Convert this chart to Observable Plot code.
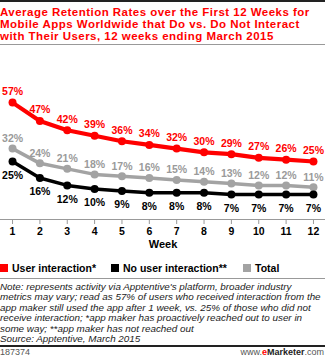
<!DOCTYPE html>
<html><head><meta charset="utf-8">
<script src="https://cdn.jsdelivr.net/npm/d3@7"></script>
<script src="https://cdn.jsdelivr.net/npm/@observablehq/plot@0.6"></script>
<style>
html,body{margin:0;padding:0;background:#fff;}
body{width:325px;height:357px;overflow:hidden;font-family:"Liberation Sans",Arial,sans-serif;}
#topbar{height:2px;background:#222;}
#title{color:#f00;font-weight:bold;font-size:11.5px;letter-spacing:0.47px;padding-top:4px;height:37.5px;border-bottom:1px solid #999;white-space:nowrap;}
#title div{height:12.1px;line-height:12.1px;overflow:visible;}
#chart{margin-top:5.5px;height:205px;}
#legend{height:21px;padding-top:2px;line-height:22px;font-size:10.5px;font-weight:bold;white-space:nowrap;position:relative;}
#legend span.item{position:absolute;top:2px;}
#legend i{display:inline-block;width:8px;height:8px;margin-right:4px;vertical-align:-0px;}
#note{border-top:1px solid #999;padding-top:3px;height:63px;font-size:9.85px;font-style:italic;color:#222;white-space:nowrap;}
#note div{height:10.4px;line-height:10.4px;overflow:visible;}
#footer{border-top:2px solid #222;height:10px;font-size:9px;line-height:10px;color:#555;position:relative;}
#footer .r{position:absolute;right:1px;top:0;}
</style>
</head><body>
<div id="topbar"></div>
<div id="title"></div>
<div id="chart"></div>
<div id="legend"></div>
<div id="note"></div>
<div id="footer"><span>187374</span><span class="r">www.<b style="color:#f00">e</b><b style="color:#222">Marketer</b>.com</span></div>
<script>
const titleLines = [
  "Average Retention Rates over the First 12 Weeks for",
  "Mobile Apps Worldwide that Do vs. Do Not Interact",
  "with Their Users, 12 weeks ending March 2015"
];
const weeks = [1,2,3,4,5,6,7,8,9,10,11,12];
const userInteraction = [57,47,42,39,36,34,32,30,29,27,26,25];
const noUserInteraction = [25,16,12,10,9,8,8,8,7,7,7,7];
const total = [32,24,21,18,17,16,15,14,13,12,12,11];
const seriesNames = ["User interaction*","No user interaction**","Total"];
const seriesColors = ["#ff0000","#000000","#a3a3a3"];
const labelColors = ["#ff0000","#000000","#9a9a9a"];
const xAxisLabel = "Week";
const noteLines = [
  "Note: represents activity via Apptentive's platform, broader industry",
  "metrics may vary; read as 57% of users who received interaction from the",
  "app maker still used the app after 1 week, vs. 25% of those who did not",
  "receive interaction; *app maker has proactively reached out to user in",
  "some way; **app maker has not reached out",
  "Source: Apptentive, March 2015"
];

const fillLines = (id, lines) => {
  const el = document.getElementById(id);
  lines.forEach(t => { const d = document.createElement("div"); d.textContent = t; el.appendChild(d); });
};
fillLines("title", titleLines);
fillLines("note", noteLines);

const seriesValues = [userInteraction, noUserInteraction, total];
const rows = [];
seriesValues.forEach((vals, s) => vals.forEach((v, i) => rows.push({series: seriesNames[s], week: weeks[i], value: v})));
const bySeries = name => rows.filter(d => d.series === name);
const labelOffset = {"User interaction*": -11, "No user interaction**": 14, "Total": -10};

const drawOrder = [2, 1, 0];
const marks = [
  Plot.frame({anchor: "bottom", stroke: "#999"}),
  Plot.axisX({ticks: weeks, tickSize: 5, tickPadding: 3, tickFormat: d => d, stroke: "#999", fill: "#000", fontWeight: "bold", fontSize: 10.5, label: null}),
  Plot.text([xAxisLabel], {frameAnchor: "bottom", dy: 28, fontWeight: "bold", fontSize: 11, fill: "#000"})
];
for (const s of drawOrder) {
  const name = seriesNames[s];
  const data = bySeries(name);
  marks.push(Plot.line(data, {x: "week", y: "value", stroke: seriesColors[s], strokeWidth: s === 0 ? 4.2 : 3.5, curve: "linear"}));
  marks.push(Plot.dot(data, {x: "week", y: "value", r: 4, fill: seriesColors[s], stroke: "none"}));
}
for (const s of drawOrder) {
  const name = seriesNames[s];
  marks.push(Plot.text(bySeries(name), {x: "week", y: "value", text: d => d.value + "%", dy: labelOffset[name], fill: labelColors[s], fontWeight: "bold", fontSize: 10.5}));
}

const chart = Plot.plot({
  width: 325,
  height: 205,
  marginTop: 0,
  marginBottom: 36,
  marginLeft: 0,
  marginRight: 0,
  style: {fontFamily: "'Liberation Sans', Arial, sans-serif", background: "#fff", overflow: "visible"},
  x: {domain: [0.56, 12.44], axis: null},
  y: {domain: [0, 60], range: [157, 46.6], axis: null},
  marks
});
document.getElementById("chart").appendChild(chart);

const legend = document.getElementById("legend");
const legendX = [0, 111, 243];
seriesNames.forEach((name, i) => {
  const el = document.createElement("span");
  el.className = "item";
  el.style.left = legendX[i] + "px";
  el.innerHTML = `<i style="background:${seriesColors[i]}"></i>${name}`;
  legend.appendChild(el);
});
</script>
</body></html>
